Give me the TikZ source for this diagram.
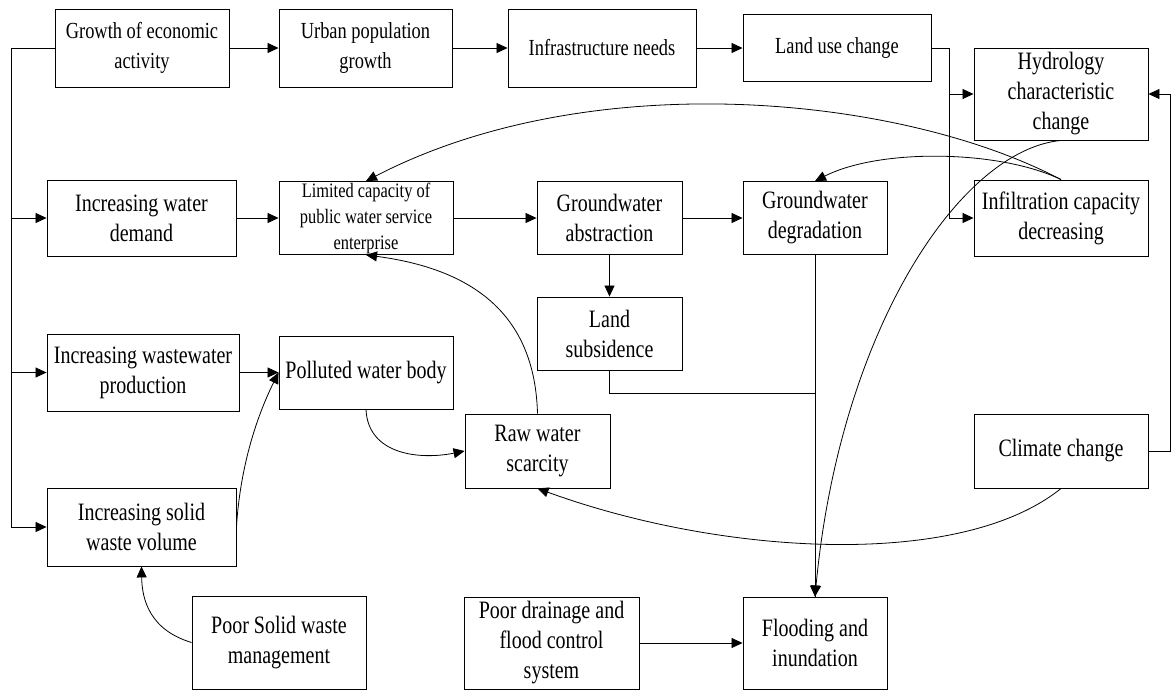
\documentclass[tikz,border=0pt]{standalone}
\usepackage{fontspec}
\setmainfont{Liberation Serif}[FakeStretch=0.8]
\usetikzlibrary{arrows.meta}
\tikzset{
  box/.style={draw, line width=.9pt, align=center, inner sep=1pt, font=\fontsize{25}{30}\selectfont},
  toprow/.style={box, font=\fontsize{23}{30}\selectfont},
}
\begin{document}
\begin{tikzpicture}[x=1pt,y=-1pt,>={Triangle[length=11pt,width=10pt]},line width=.8pt]
\useasboundingbox (0,0) rectangle (1171,691);
% top row
\node[toprow, minimum width=174, minimum height=78] (grow) at (142,48) {Growth of economic\\activity};
\node[toprow, minimum width=173, minimum height=78] (urban) at (365.5,48) {Urban population\\growth};
\node[toprow, minimum width=188, minimum height=78] (infra) at (602,48) {Infrastructure needs};
\node[toprow, minimum width=188, minimum height=67] (landuse) at (837,48) {Land use change};
% right column
\node[box, minimum width=174, minimum height=92] (hydro) at (1061,94) {Hydrology\\characteristic\\change};
\node[box, minimum width=174, minimum height=76] (infil) at (1061,218) {Infiltration capacity\\decreasing};
\node[box, minimum width=174, minimum height=74] (climate) at (1061,451) {Climate change};
% second row
\node[box, minimum width=189, minimum height=76] (demand) at (141.5,218) {Increasing water\\demand};
\node[box, minimum width=174, minimum height=73, font=\fontsize{20.5}{26}\selectfont] (limited) at (366,218) {Limited capacity of\\public water service\\enterprise};
\node[box, minimum width=145, minimum height=73] (abstr) at (609.5,218) {Groundwater\\abstraction};
\node[box, minimum width=144, minimum height=73] (degr) at (815,218) {Groundwater\\degradation};
\node[box, minimum width=145, minimum height=73] (subsid) at (609.5,333.5) {Land\\subsidence};
% third row
\node[box, minimum width=192, minimum height=77] (wastew) at (143,372.5) {Increasing wastewater\\production};
\node[box, minimum width=174, minimum height=73] (polluted) at (366,372.5) {Polluted water body};
\node[box, minimum width=145, minimum height=74] (raw) at (537.5,451) {Raw water\\scarcity};
% bottom
\node[box, minimum width=189, minimum height=78] (solid) at (141.5,527) {Increasing solid\\waste volume};
\node[box, minimum width=174, minimum height=93] (poorsw) at (279,642.5) {Poor Solid waste\\management};
\node[box, minimum width=175, minimum height=92] (drain) at (551.5,643) {Poor drainage and\\flood control\\system};
\node[box, minimum width=144, minimum height=92] (flood) at (815,643) {Flooding and\\inundation};

% left trunk
\coordinate (trunk) at ([xshift=-35]solid.west);
\draw[->] (grow.west) -| (trunk) -- (solid.west);
\draw[->] (trunk |- demand.west) -- (demand.west);
\draw[->] (trunk |- wastew.west) -- (wastew.west);
% straight links
\draw[->] (grow.east) -- (urban.west);
\draw[->] (urban.east) -- (infra.west);
\draw[->] (infra.east) -- (landuse.west);
\coordinate (fork) at ([xshift=-24]hydro.west);
\draw (landuse.east) -| (fork);
\draw[->] (fork) -- (hydro.west);
\draw[->] (fork) |- (infil.west);
\draw[->] (climate.east) -- ++(22,0) |- (hydro.east);
\draw[->] (demand.east) -- (limited.west);
\draw[->] (limited.east) -- (abstr.west);
\draw[->] (abstr.east) -- (degr.west);
\draw[->] (abstr.south) -- (subsid.north);
\draw[->] (degr.south) -- (flood.north);
\draw (subsid.south) -- ++(0,23) -| (flood.north);
\draw[->] (wastew.east) -- (polluted.west);
\draw[->] (drain.east) -- (flood.west);
% curved links
\draw[->] (hydro.south) .. controls (960,150) and (840,330) .. (flood.north);
\draw[->] (infil.north) .. controls (900,95) and (590,65) .. (limited.north);
\draw[->] (infil.north) .. controls (1000,150) and (880,148) .. (degr.north);
\draw[->] (climate.south) .. controls (960,570) and (720,555) .. (raw.south);
\draw[->] (raw.north) .. controls (535,320) and (480,270) .. (limited.south);
\draw[->] (polluted.south) .. controls (368,455) and (420,460) .. (raw.west);
\draw[->] (solid.east) .. controls (240,470) and (255,420) .. (polluted.west);
\draw[->] (poorsw.west) .. controls (150,630) and (142,600) .. (solid.south);
\end{tikzpicture}
\end{document}
